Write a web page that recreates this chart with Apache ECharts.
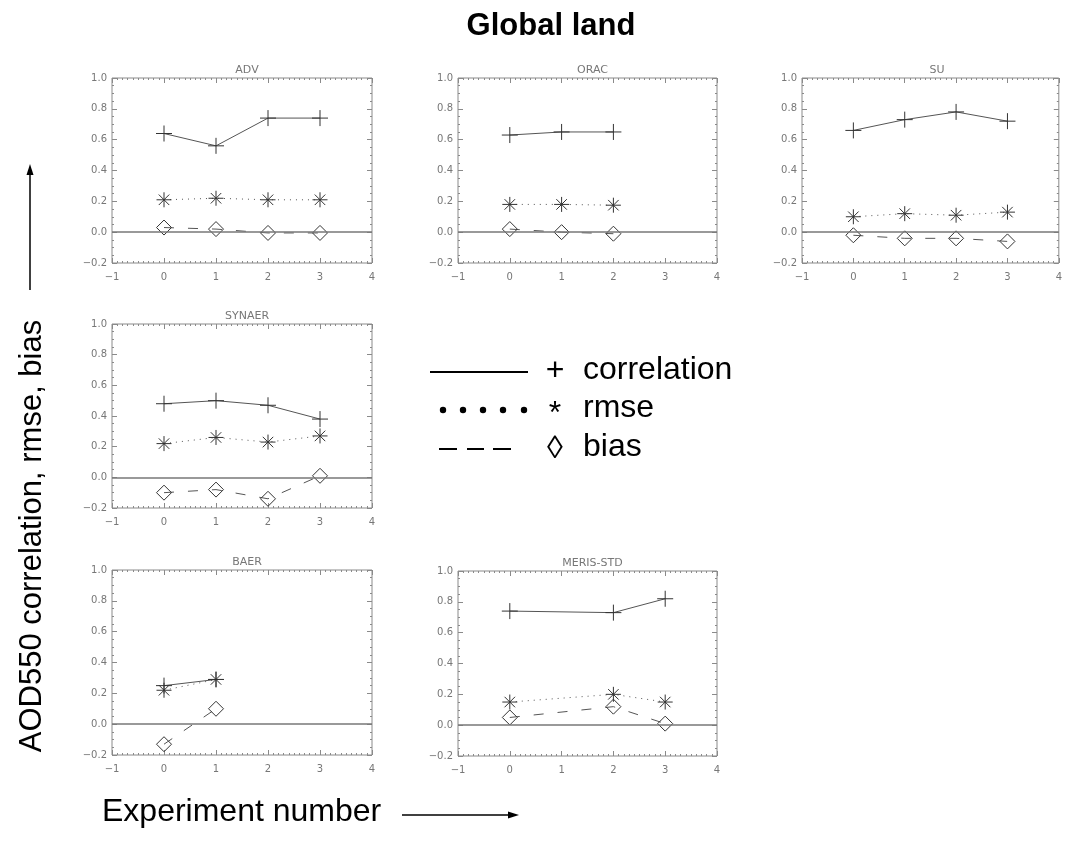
<!DOCTYPE html>
<html>
<head>
<meta charset="utf-8">
<script src="https://cdn.jsdelivr.net/npm/echarts@6/dist/echarts.min.js"></script>
<style>html,body{margin:0;padding:0;background:#fff;}#c{width:1065px;height:844px;}</style>
</head>
<body>
<div id="c"></div>
<script>
// ---- data ----
const TITLE = 'Global land';
const Y_LABEL = 'AOD550 correlation, rmse, bias';
const X_LABEL = 'Experiment number';
const PANELS = ['ADV', 'ORAC', 'SU', 'SYNAER', 'BAER', 'MERIS-STD'];
const X_TICKS = [-1, 0, 1, 2, 3, 4];
const Y_TICKS = [-0.2, 0.0, 0.2, 0.4, 0.6, 0.8, 1.0];
const ZERO_LINE = 0;

const ADV_x = [0, 1, 2, 3];
const ADV_correlation = [0.64, 0.56, 0.74, 0.74];
const ADV_rmse = [0.21, 0.22, 0.21, 0.21];
const ADV_bias = [0.03, 0.02, -0.005, -0.005];

const ORAC_x = [0, 1, 2];
const ORAC_correlation = [0.63, 0.65, 0.65];
const ORAC_rmse = [0.18, 0.18, 0.175];
const ORAC_bias = [0.02, 0.0, -0.01];

const SU_x = [0, 1, 2, 3];
const SU_correlation = [0.66, 0.73, 0.78, 0.72];
const SU_rmse = [0.10, 0.12, 0.11, 0.13];
const SU_bias = [-0.02, -0.04, -0.04, -0.06];

const SYNAER_x = [0, 1, 2, 3];
const SYNAER_correlation = [0.48, 0.50, 0.47, 0.38];
const SYNAER_rmse = [0.22, 0.26, 0.23, 0.27];
const SYNAER_bias = [-0.10, -0.08, -0.14, 0.01];

const BAER_x = [0, 1];
const BAER_correlation = [0.25, 0.29];
const BAER_rmse = [0.22, 0.29];
const BAER_bias = [-0.13, 0.10];

const MERIS_x = [0, 2, 3];
const MERIS_correlation = [0.74, 0.73, 0.82];
const MERIS_rmse = [0.15, 0.20, 0.15];
const MERIS_bias = [0.05, 0.12, 0.01];

const PANEL_DATA = [
  [ADV_x, ADV_correlation, ADV_rmse, ADV_bias],
  [ORAC_x, ORAC_correlation, ORAC_rmse, ORAC_bias],
  [SU_x, SU_correlation, SU_rmse, SU_bias],
  [SYNAER_x, SYNAER_correlation, SYNAER_rmse, SYNAER_bias],
  [BAER_x, BAER_correlation, BAER_rmse, BAER_bias],
  [MERIS_x, MERIS_correlation, MERIS_rmse, MERIS_bias]
];

// ---- layout ----
const GRID_POS = [
  {left: 112, top: 78, width: 260, height: 185},
  {left: 458, top: 78, width: 259, height: 185},
  {left: 802, top: 78, width: 260, height: 185},
  {left: 112, top: 324, width: 260, height: 184},
  {left: 112, top: 570, width: 260, height: 185},
  {left: 458, top: 571, width: 259, height: 185}
];

const FRAME = '#8a8a8a';
const INK = '#333333';
const TICKTXT = '#777777';
const MINUS = s => String(s).replace('-', '\u2212');

const SYM_PLUS = 'path://M10,0L10,20M0,10L20,10';
const SYM_STAR = 'path://M10,0L10,20M0,10L20,10M3,3L17,17M17,3L3,17';
const SYM_DIAMOND = 'path://M10,0L20,10L10,20L0,10Z';

const grids = [], xAxes = [], yAxes = [], series = [], titles = [];

PANELS.forEach((name, i) => {
  const g = GRID_POS[i];
  grids.push(Object.assign({show: true, borderColor: FRAME, borderWidth: 1, backgroundColor: 'transparent'}, g));
  titles.push({
    text: name, left: g.left + g.width / 2, top: g.top - 18, textAlign: 'center',
    textStyle: {fontFamily: 'DejaVu Sans', fontSize: 11, fontWeight: 'normal', color: TICKTXT}
  });
  const xCommon = {
    type: 'value', gridIndex: i, min: X_TICKS[0], max: X_TICKS[X_TICKS.length - 1], interval: 1,
    axisLine: {show: false, onZero: false},
    axisTick: {show: true, inside: true, length: 5, lineStyle: {color: FRAME}},
    minorTick: {show: true, splitNumber: 10, length: 2, lineStyle: {color: FRAME}},
    splitLine: {show: false}, minorSplitLine: {show: false}
  };
  xAxes.push(Object.assign({}, xCommon, {
    position: 'bottom',
    axisLabel: {show: true, margin: 9, color: TICKTXT, fontFamily: 'DejaVu Sans', fontSize: 10, formatter: v => MINUS(v)}
  }));
  xAxes.push(Object.assign({}, xCommon, {position: 'top', axisLabel: {show: false}}));
  const yCommon = {
    type: 'value', gridIndex: i, min: Y_TICKS[0], max: Y_TICKS[Y_TICKS.length - 1], interval: 0.2,
    axisLine: {show: false, onZero: false},
    axisTick: {show: true, inside: true, length: 5, lineStyle: {color: FRAME}},
    minorTick: {show: true, splitNumber: 4, length: 2, lineStyle: {color: FRAME}},
    splitLine: {show: false}, minorSplitLine: {show: false}
  };
  yAxes.push(Object.assign({}, yCommon, {
    position: 'left',
    axisLabel: {show: true, margin: 5, color: TICKTXT, fontFamily: 'DejaVu Sans', fontSize: 10, formatter: v => MINUS(v.toFixed(1))}
  }));
  yAxes.push(Object.assign({}, yCommon, {position: 'right', axisLabel: {show: false}}));

  const [xs, corr, rmse, bias] = PANEL_DATA[i];
  const pair = arr => xs.map((x, k) => [x, arr[k]]);
  const base = {type: 'line', xAxisIndex: 2 * i, yAxisIndex: 2 * i, silent: true, z: 3};
  series.push(Object.assign({}, base, {
    name: name + ' correlation', data: pair(corr),
    symbol: SYM_PLUS, symbolSize: 16,
    itemStyle: {color: 'transparent', borderColor: INK, borderWidth: 1},
    lineStyle: {color: '#555', width: 1, type: 'solid'},
    markLine: {
      silent: true, symbol: 'none', animation: false,
      label: {show: false},
      lineStyle: {color: '#777', width: 1.5, type: 'solid'},
      data: [{yAxis: ZERO_LINE}]
    }
  }));
  series.push(Object.assign({}, base, {
    name: name + ' rmse', data: pair(rmse),
    symbol: SYM_STAR, symbolSize: 15,
    itemStyle: {color: 'transparent', borderColor: INK, borderWidth: 1},
    lineStyle: {color: '#555', width: 1, type: [1, 5]}
  }));
  series.push(Object.assign({}, base, {
    name: name + ' bias', data: pair(bias),
    symbol: SYM_DIAMOND, symbolSize: 15,
    itemStyle: {color: 'transparent', borderColor: INK, borderWidth: 1},
    lineStyle: {color: '#555', width: 1, type: [10, 14]}
  }));
});

titles.push({
  text: TITLE, left: 546, top: 6, textAlign: 'center',
  textStyle: {fontFamily: 'Liberation Sans', fontSize: 31, fontWeight: 'bold', color: '#000'}
});

// legend + outer labels as graphics
const LEG_Y = [372, 410, 449];
const legendFont = {fontFamily: 'Liberation Sans', fontSize: 32, fill: '#000'};
const graphic = [
  {type: 'line', shape: {x1: 430, y1: LEG_Y[0], x2: 528, y2: LEG_Y[0]}, style: {stroke: '#000', lineWidth: 2}},
  {type: 'text', x: 555, y: LEG_Y[0] - 1, style: Object.assign({text: '+', align: 'center', verticalAlign: 'middle'}, legendFont)},
  {type: 'text', x: 583, y: LEG_Y[0] - 2, style: Object.assign({text: 'correlation', align: 'left', verticalAlign: 'middle'}, legendFont)},
  {type: 'text', x: 555, y: LEG_Y[1] + 4, style: Object.assign({text: '*', align: 'center', verticalAlign: 'middle'}, legendFont)},
  {type: 'text', x: 583, y: LEG_Y[1] - 2, style: Object.assign({text: 'rmse', align: 'left', verticalAlign: 'middle'}, legendFont)},
  {type: 'text', x: 555, y: LEG_Y[2], style: Object.assign({text: '\u25CA', align: 'center', verticalAlign: 'middle'}, legendFont)},
  {type: 'text', x: 583, y: LEG_Y[2] - 2, style: Object.assign({text: 'bias', align: 'left', verticalAlign: 'middle'}, legendFont)},
  {type: 'line', shape: {x1: 439, y1: LEG_Y[2], x2: 457, y2: LEG_Y[2]}, style: {stroke: '#000', lineWidth: 2}},
  {type: 'line', shape: {x1: 467, y1: LEG_Y[2], x2: 484, y2: LEG_Y[2]}, style: {stroke: '#000', lineWidth: 2}},
  {type: 'line', shape: {x1: 493, y1: LEG_Y[2], x2: 511, y2: LEG_Y[2]}, style: {stroke: '#000', lineWidth: 2}},
  // y label + arrow
  {type: 'text', x: 32, y: 536, rotation: Math.PI / 2,
   style: {text: Y_LABEL, align: 'center', verticalAlign: 'middle', fontFamily: 'Liberation Sans', fontSize: 31, fill: '#000'}},
  {type: 'line', shape: {x1: 30, y1: 290, x2: 30, y2: 172}, style: {stroke: '#000', lineWidth: 1.5}},
  {type: 'polygon', shape: {points: [[30, 164], [26.5, 175], [33.5, 175]]}, style: {fill: '#000'}},
  // x label + arrow
  {type: 'text', x: 102, y: 812,
   style: {text: X_LABEL, align: 'left', verticalAlign: 'middle', fontFamily: 'Liberation Sans', fontSize: 32, fill: '#000'}},
  {type: 'line', shape: {x1: 402, y1: 815, x2: 509, y2: 815}, style: {stroke: '#000', lineWidth: 1.5}},
  {type: 'polygon', shape: {points: [[519, 815], [508, 811.5], [508, 818.5]]}, style: {fill: '#000'}}
];
[443, 463, 483, 503, 524].forEach(cx => graphic.push({type: 'circle', shape: {cx: cx, cy: LEG_Y[1], r: 3.2}, style: {fill: '#000'}}));

const chart = echarts.init(document.getElementById('c'), null, {renderer: 'canvas'});
chart.setOption({
  animation: false,
  backgroundColor: '#fff',
  title: titles,
  grid: grids,
  xAxis: xAxes,
  yAxis: yAxes,
  series: series,
  graphic: graphic
});
</script>
</body>
</html>
